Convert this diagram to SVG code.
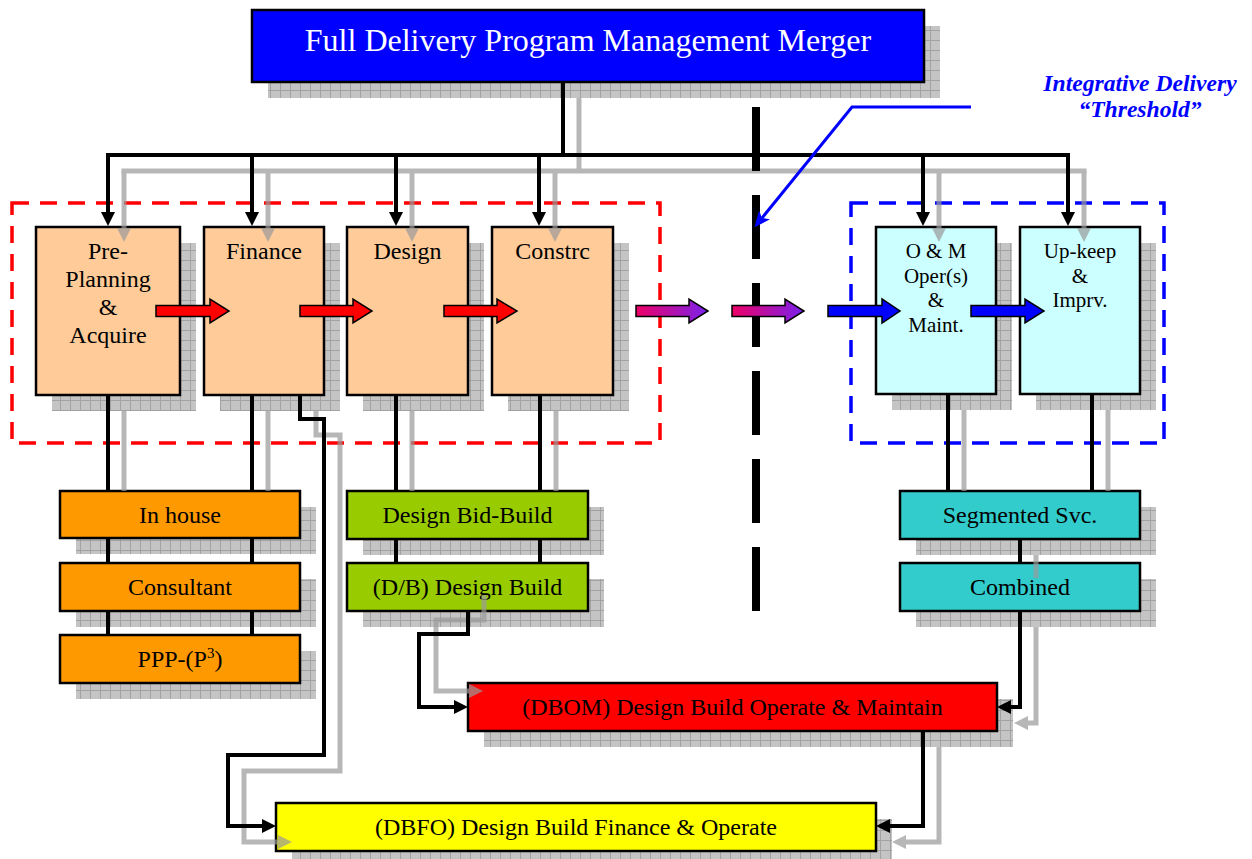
<svg xmlns="http://www.w3.org/2000/svg" width="1252" height="859" viewBox="0 0 1252 859">
<defs>
<pattern id="chk" width="10" height="10" patternUnits="userSpaceOnUse">
<rect width="10" height="10" fill="#c4c4c4"/>
<path d="M0 0.5H10M0.5 0V10" stroke="#a2a2a2" stroke-width="1"/>
</pattern>
<linearGradient id="mag" x1="0" y1="0" x2="1" y2="0">
<stop offset="0" stop-color="#ee0066"/>
<stop offset="1" stop-color="#7a22ee"/>
</linearGradient>
<marker id="ah" viewBox="0 0 14 14" refX="4" refY="7" markerWidth="14" markerHeight="14" markerUnits="userSpaceOnUse" orient="auto">
<path d="M0,0 L14,7 L0,14 Z" fill="#000"/>
</marker>
<marker id="ahg" viewBox="0 0 14 14" refX="4" refY="7" markerWidth="14" markerHeight="14" markerUnits="userSpaceOnUse" orient="auto">
<path d="M0,0 L14,7 L0,14 Z" fill="#9a9a9a"/>
</marker>
<marker id="ahb" viewBox="0 0 16 14" refX="4" refY="7" markerWidth="16" markerHeight="14" markerUnits="userSpaceOnUse" orient="auto">
<path d="M0,0 L16,7 L0,14 L4,7 Z" fill="#0000ff"/>
</marker>
<style>
.sh{fill:url(#chk)}
.bx{stroke:#000;stroke-width:2.5}
.t{font-family:"Liberation Serif","Times New Roman",serif;font-size:24px;fill:#000;text-anchor:middle}
.ts{font-family:"Liberation Serif","Times New Roman",serif;font-size:21px;fill:#000;text-anchor:middle}
.c{fill:none;stroke:#000;stroke-width:4;stroke-linejoin:miter}
.cs{fill:none;stroke:#9a9a9a;stroke-width:5;stroke-linejoin:miter}
.dash{fill:none;stroke-width:3.5;stroke-dasharray:17 11}
.blk{stroke:#000;stroke-width:1.5}
.lbl{font-family:"Liberation Serif","Times New Roman",serif;font-size:23.6px;font-weight:bold;font-style:italic;fill:#0000ff;text-anchor:middle}
</style>
</defs>
<rect width="1252" height="859" fill="#fff"/>

<g id="shadows">
<rect class="sh" x="268" y="26" width="672" height="72"/>
<rect class="sh" x="52" y="243" width="144" height="168"/>
<rect class="sh" x="220" y="243" width="120" height="168"/>
<rect class="sh" x="363" y="243" width="121" height="168"/>
<rect class="sh" x="508" y="243" width="121" height="168"/>
<rect class="sh" x="892" y="243" width="120" height="167"/>
<rect class="sh" x="1036" y="243" width="120" height="167"/>
<rect class="sh" x="76" y="507" width="240" height="47"/>
<rect class="sh" x="76" y="579" width="240" height="48"/>
<rect class="sh" x="76" y="651" width="240" height="48"/>
<rect class="sh" x="363" y="507" width="241" height="48"/>
<rect class="sh" x="363" y="579" width="241" height="48"/>
<rect class="sh" x="916" y="507" width="240" height="48"/>
<rect class="sh" x="916" y="579" width="240" height="48"/>
<rect class="sh" x="484" y="699" width="529" height="48"/>
<rect class="sh" x="292" y="819" width="600" height="48"/>
</g>

<g id="regions">
<rect class="dash" x="12" y="203" width="648" height="240" stroke="#ff0000"/>
<rect class="dash" x="851" y="203" width="313" height="240" stroke="#0000ff"/>
</g>

<g id="title">
<rect class="bx" x="252" y="10" width="672" height="72" fill="#0000ff"/>
<text x="588" y="51" font-family="Liberation Serif, Times New Roman, serif" font-size="32" fill="#fff" text-anchor="middle">Full Delivery Program Management Merger</text>
</g>
<g id="preplanning">
<rect class="bx" x="36" y="227" width="144" height="168" fill="#ffcc99"/>
<text class="t" x="108" y="259">Pre-</text>
<text class="t" x="108" y="287">Planning</text>
<text class="t" x="108" y="315">&amp;</text>
<text class="t" x="108" y="343">Acquire</text>
</g>
<g id="finance">
<rect class="bx" x="204" y="227" width="120" height="168" fill="#ffcc99"/>
<text class="t" x="264" y="259">Finance</text>
</g>
<g id="design">
<rect class="bx" x="347" y="227" width="121" height="168" fill="#ffcc99"/>
<text class="t" x="407.5" y="259">Design</text>
</g>
<g id="constrc">
<rect class="bx" x="492" y="227" width="121" height="168" fill="#ffcc99"/>
<text class="t" x="552.5" y="259">Constrc</text>
</g>
<g id="om">
<rect class="bx" x="876" y="227" width="120" height="167" fill="#ccffff"/>
<text class="ts" x="936" y="258">O &amp; M</text>
<text class="ts" x="936" y="282.5">Oper(s)</text>
<text class="ts" x="936" y="307">&amp;</text>
<text class="ts" x="936" y="331.5">Maint.</text>
</g>
<g id="upkeep">
<rect class="bx" x="1020" y="227" width="120" height="167" fill="#ccffff"/>
<text class="ts" x="1080" y="258">Up-keep</text>
<text class="ts" x="1080" y="282.5">&amp;</text>
<text class="ts" x="1080" y="307">Imprv.</text>
</g>
<g id="inhouse">
<rect class="bx" x="60" y="491" width="240" height="47" fill="#ff9900"/>
<text class="t" x="180" y="523">In house</text>
</g>
<g id="consultant">
<rect class="bx" x="60" y="563" width="240" height="48" fill="#ff9900"/>
<text class="t" x="180" y="595">Consultant</text>
</g>
<g id="ppp">
<rect class="bx" x="60" y="635" width="240" height="48" fill="#ff9900"/>
<text class="t" x="180" y="667">PPP-(P<tspan font-size="15" dy="-9">3</tspan><tspan dy="9">)</tspan></text>
</g>
<g id="dbb">
<rect class="bx" x="347" y="491" width="241" height="48" fill="#99cc00"/>
<text class="t" x="467.5" y="523">Design Bid-Build</text>
</g>
<g id="db">
<rect class="bx" x="347" y="563" width="241" height="48" fill="#99cc00"/>
<text class="t" x="467.5" y="595">(D/B) Design Build</text>
</g>
<g id="segmented">
<rect class="bx" x="900" y="491" width="240" height="48" fill="#33cccc"/>
<text class="t" x="1020" y="523">Segmented Svc.</text>
</g>
<g id="combined">
<rect class="bx" x="900" y="563" width="240" height="48" fill="#33cccc"/>
<text class="t" x="1020" y="595">Combined</text>
</g>
<g id="dbom">
<rect class="bx" x="468" y="683" width="529" height="48" fill="#ff0000"/>
<text class="t" x="732.5" y="715">(DBOM) Design Build Operate &amp; Maintain</text>
</g>
<g id="dbfo">
<rect class="bx" x="276" y="803" width="600" height="48" fill="#ffff00"/>
<text class="t" x="576" y="835">(DBFO) Design Build Finance &amp; Operate</text>
</g>

<g id="connector-shadows" opacity="0.7">
<path class="cs" d="M579,98 V171"/>
<path class="cs" d="M124,171 H1084" stroke-linecap="square"/>
<path class="cs" d="M124,171 V232" marker-end="url(#ahg)"/>
<path class="cs" d="M268,171 V232" marker-end="url(#ahg)"/>
<path class="cs" d="M412,171 V232" marker-end="url(#ahg)"/>
<path class="cs" d="M555,171 V232" marker-end="url(#ahg)"/>
<path class="cs" d="M939,171 V232" marker-end="url(#ahg)"/>
<path class="cs" d="M1084,171 V232" marker-end="url(#ahg)"/>
<path class="cs" d="M124,411 V491"/>
<path class="cs" d="M268,411 V491"/>
<path class="cs" d="M412,411 V491"/>
<path class="cs" d="M556,411 V491"/>
<path class="cs" d="M964,410 V491"/>
<path class="cs" d="M1108,410 V491"/>
<path class="cs" d="M1036,555 V578"/>
<path class="cs" d="M316,411 V435 H340 V771 H244 V842 H282" marker-end="url(#ahg)"/>
<path class="cs" d="M484,595 V620 H436 V691 H473" marker-end="url(#ahg)"/>
<path class="cs" d="M1036,627 V723 H1024" marker-end="url(#ahg)"/>
<path class="cs" d="M939,747 V842 H902" marker-end="url(#ahg)"/>
</g>

<g id="connectors">
<path class="c" d="M563,82 V155"/>
<path class="c" d="M108,155 H1068" stroke-linecap="square"/>
<path class="c" d="M108,155 V216" marker-end="url(#ah)"/>
<path class="c" d="M252,155 V216" marker-end="url(#ah)"/>
<path class="c" d="M396,155 V216" marker-end="url(#ah)"/>
<path class="c" d="M539,155 V216" marker-end="url(#ah)"/>
<path class="c" d="M923,155 V216" marker-end="url(#ah)"/>
<path class="c" d="M1068,155 V216" marker-end="url(#ah)"/>
<path class="c" d="M108,395 V491 M108,538 V563 M108,611 V635"/>
<path class="c" d="M252,395 V491 M252,538 V563 M252,611 V635"/>
<path class="c" d="M396,395 V491 M396,539 V563"/>
<path class="c" d="M540,395 V491 M540,539 V563"/>
<path class="c" d="M948,394 V491"/>
<path class="c" d="M1092,394 V491"/>
<path class="c" d="M1020,539 V563"/>
<path class="c" d="M300,395 V419 H324 V755 H228 V826 H266" marker-end="url(#ah)"/>
<path class="c" d="M468,611 V634 H419 V707 H458" marker-end="url(#ah)"/>
<path class="c" d="M1020,611 V707 H1007" marker-end="url(#ah)"/>
<path class="c" d="M923,731 V826 H886" marker-end="url(#ah)"/>
</g>

<g id="flow-arrows">
<path class="blk" fill="#ff0000" d="M156,305.5 H210 V299 L229,311 L210,323 V316.5 H156 Z"/>
<path class="blk" fill="#ff0000" d="M300,305.5 H353 V299 L372,311 L353,323 V316.5 H300 Z"/>
<path class="blk" fill="#ff0000" d="M444,305.5 H497 V299 L517,311 L497,323 V316.5 H444 Z"/>
<path class="blk" fill="url(#mag)" d="M636,305.5 H689 V299 L708,311 L689,323 V316.5 H636 Z"/>
<path class="blk" fill="#0000ff" d="M828,305.5 H882 V299 L900,311 L882,323 V316.5 H828 Z"/>
<path class="blk" fill="#0000ff" d="M971,305.5 H1025 V299 L1044,311 L1025,323 V316.5 H971 Z"/>
</g>

<g id="threshold">
<path d="M756,107 V611" stroke="#000" stroke-width="8" stroke-dasharray="64 24" fill="none"/>
<path class="blk" fill="url(#mag)" d="M732,305.5 H785 V299 L804,311 L785,323 V316.5 H732 Z"/>
<path d="M971,107 H852 L762,218" fill="none" stroke="#0000ff" stroke-width="3" marker-end="url(#ahb)"/>
<text class="lbl" x="1140" y="91">Integrative Delivery</text>
<text class="lbl" x="1140" y="117">“Threshold”</text>
</g>
</svg>
